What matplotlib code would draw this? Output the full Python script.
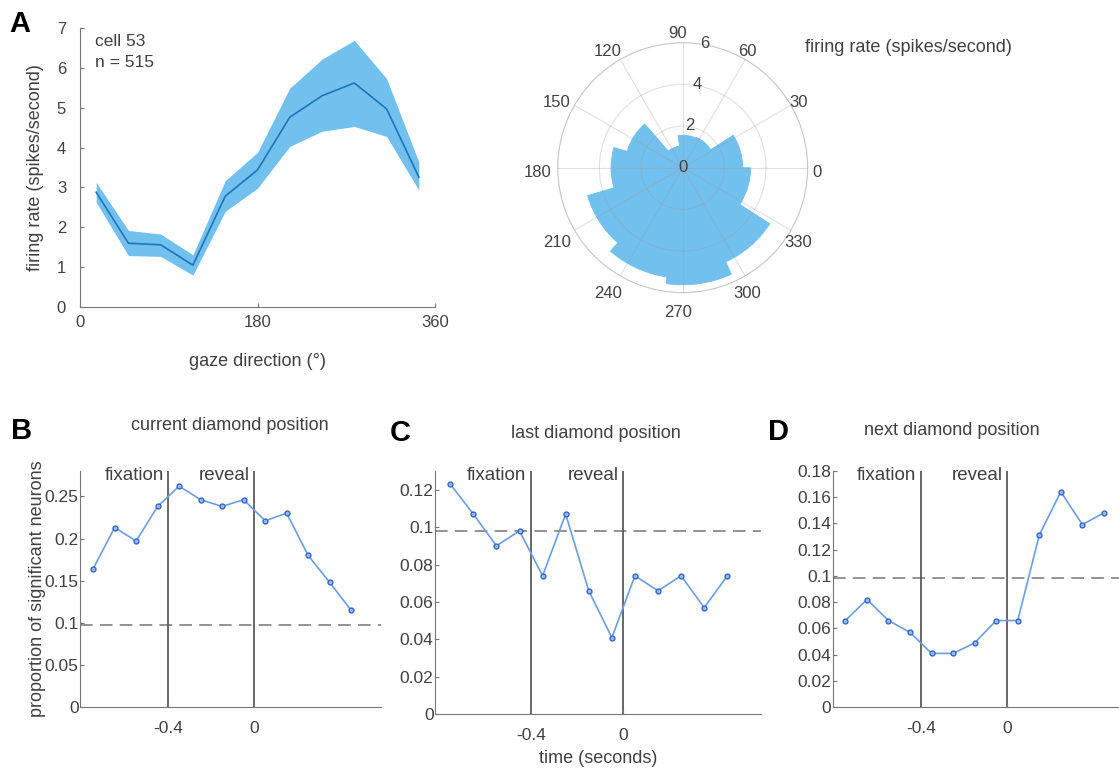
import numpy as np
import matplotlib
matplotlib.use("Agg")
import matplotlib.pyplot as plt
from matplotlib.transforms import ScaledTranslation

plt.rcParams['font.family'] = ['Liberation Sans', 'DejaVu Sans']

# panel A: firing rate by gaze direction (cell 53)
gaze_bins = [16.4, 49.1, 81.8, 114.5, 147.3, 180.0, 212.7, 245.5, 278.2, 310.9, 343.6]
rate_mean = [2.88, 1.60, 1.56, 1.05, 2.78, 3.44, 4.76, 5.30, 5.62, 4.97, 3.26]
rate_upper = [3.13, 1.92, 1.83, 1.31, 3.17, 3.88, 5.49, 6.22, 6.69, 5.73, 3.64]
rate_lower = [2.63, 1.29, 1.27, 0.80, 2.40, 2.98, 4.03, 4.41, 4.53, 4.28, 2.93]
polar_angles = list(range(0, 360, 30))
polar_rticks = [0, 2, 4, 6]

# panels B-D: proportion of significant neurons over time
time_s = [-0.75, -0.65, -0.55, -0.45, -0.35, -0.25, -0.15, -0.05, 0.05, 0.15, 0.25, 0.35, 0.45]
prop_current = [0.164, 0.213, 0.197, 0.238, 0.262, 0.246, 0.238, 0.246, 0.221, 0.230, 0.180, 0.148, 0.115]
prop_last = [0.123, 0.107, 0.090, 0.098, 0.074, 0.107, 0.066, 0.041, 0.074, 0.066, 0.074, 0.057, 0.074]
prop_next = [0.066, 0.082, 0.066, 0.057, 0.041, 0.041, 0.049, 0.066, 0.066, 0.131, 0.164, 0.139, 0.148]
chance_level = 0.098
event_times = [-0.4, 0.0]
event_names = ['fixation', 'reveal']

TXT = '#404040'
FILL = '#72C0EE'
LINE_DARK = '#1F74BA'
LINE_LIGHT = '#6C9DE0'
MARK_EDGE = '#3366C4'
W, H = 1119, 769


def box(left, top, right, bottom):
    # pixel box -> figure fraction rect
    return [left / W, 1 - bottom / H, (right - left) / W, (bottom - top) / H]


fig = plt.figure(figsize=(W / 100, H / 100), dpi=100)

# ---- A: line with band ----
ax = fig.add_axes(box(80, 28, 435, 307))
ax.fill_between(gaze_bins, rate_lower, rate_upper, color=FILL, lw=0)
ax.plot(gaze_bins, rate_mean, color=LINE_DARK, lw=1.2)
ax.set_xlim(0, 360)
ax.set_ylim(0, 7)
ax.set_xticks([0, 180, 360])
ax.set_yticks(range(8))
for s in ['top', 'right']:
    ax.spines[s].set_visible(False)
for s in ['left', 'bottom']:
    ax.spines[s].set_color('#777777')
ax.tick_params(direction='in', length=3, colors='#777777', labelcolor=TXT, labelsize=12)
ax.tick_params(axis='y', pad=10)
ax.tick_params(axis='x', pad=6)
ax.set_xlabel('gaze direction (°)', fontsize=13, color=TXT, labelpad=16)
ax.set_ylabel('firing rate (spikes/second)', fontsize=13, color=TXT, labelpad=9)
ax.text(0.042, 0.98, 'cell 53\nn = 515', transform=ax.transAxes, fontsize=12.5,
        color=TXT, va='top', ha='left', linespacing=1.5)

# ---- A: polar rose ----
pax = fig.add_axes(box(557.7, 42.7, 807.7, 292.7), projection='polar')
pax.bar(np.deg2rad(gaze_bins), rate_mean, width=2 * np.pi / len(gaze_bins),
        color=FILL, edgecolor=FILL, lw=0.6, zorder=1)
pax.set_ylim(0, 6)
pax.set_rticks(polar_rticks)
pax.set_yticklabels([])
pax.set_thetagrids(polar_angles, labels=[''] * len(polar_angles))
pax.grid(color='#9a9a9a', alpha=0.3, lw=0.8)
pax.set_axisbelow(False)
pax.spines['polar'].set_color('#d0d0d0')
# angle labels sit a little left/down of a centred ring, as in the original
shift = pax.transData + ScaledTranslation(-3.6 / 72, -3.6 / 72, fig.dpi_scale_trans)
for ang in polar_angles:
    pax.text(np.deg2rad(ang), 6.7, str(ang), transform=shift, fontsize=12, color=TXT,
             ha='center', va='center', clip_on=False)
for r in polar_rticks:
    pax.text(np.deg2rad(80), r + 0.05 if r else 0, str(r), fontsize=12, color=TXT,
             ha='center', va='center', zorder=5)
fig.text(805 / W, 1 - 47 / H, 'firing rate (spikes/second)', fontsize=13,
         color=TXT, ha='left', va='center')

fig.text(9 / W, 1 - 24 / H, 'A', fontsize=21, fontweight='bold', ha='left', va='center')

# ---- B, C, D ----
panels = [
    ('B', 'current diamond position', prop_current, box(80, 471, 381, 707.3),
     (-0.811, 0.589), (0, 0.28), [0, 0.05, 0.1, 0.15, 0.2, 0.25],
     (11, 431), (230, 425)),
    ('C', 'last diamond position', prop_last, box(435, 471, 761, 714.3),
     (-0.816, 0.596), (0, 0.13), [0, 0.02, 0.04, 0.06, 0.08, 0.1, 0.12],
     (390, 433), (596, 433)),
    ('D', 'next diamond position', prop_next, box(832.7, 470.7, 1119, 707.3),
     (-0.809, 0.52), (0, 0.18), [0, 0.02, 0.04, 0.06, 0.08, 0.1, 0.12, 0.14, 0.16, 0.18],
     (768, 432), (952, 430)),
]

for letter, title, vals, rect, xl, yl, yt, lpos, tpos in panels:
    a = fig.add_axes(rect)
    a.axhline(chance_level, color='#8a8a8a', lw=1.3, ls=(0, (7, 4)), zorder=1)
    for et in event_times:
        a.axvline(et, color='#5a5a5a', lw=1.3, zorder=1)
    for et, name in zip(event_times, event_names):
        a.text(et - 0.02, 0.98, name, transform=a.get_xaxis_transform(),
               ha='right', va='center', fontsize=13.5, color=TXT)
    a.plot(time_s, vals, color=LINE_LIGHT, lw=1.2, marker='o', ms=3.5,
           mfc='#9dbcf0', mec=MARK_EDGE, mew=1.0, zorder=3)
    a.set_xlim(*xl)
    a.set_ylim(*yl)
    a.set_xticks(event_times)
    a.set_xticklabels(['-0.4', '0'])
    a.set_yticks(yt)
    a.set_yticklabels(['0'] + [('%g' % v) for v in yt[1:]])
    for s in ['top', 'right']:
        a.spines[s].set_visible(False)
    for s in ['left', 'bottom']:
        a.spines[s].set_color('#777777')
    a.tick_params(direction='in', length=3, colors='#777777', labelcolor=TXT, labelsize=12.5)
    a.tick_params(axis='y', pad=1)
    a.tick_params(axis='x', pad=10)
    fig.text(lpos[0] / W, 1 - lpos[1] / H, letter, fontsize=21, fontweight='bold',
             ha='left', va='center')
    fig.text(tpos[0] / W, 1 - tpos[1] / H, title, fontsize=13, color=TXT,
             ha='center', va='center')
    if letter == 'B':
        a.set_ylabel('proportion of significant neurons', fontsize=13, color=TXT, labelpad=-1)
    if letter == 'C':
        a.set_xlabel('time (seconds)', fontsize=13, color=TXT, labelpad=5)

fig.savefig('out.png', dpi=100, facecolor='white')
